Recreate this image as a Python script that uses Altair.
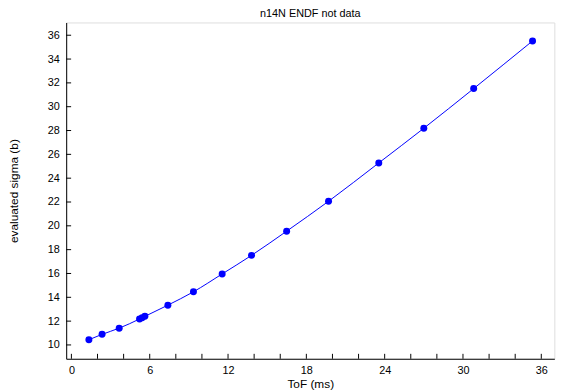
import altair as alt
import pandas as pd

tof = [1.34, 2.35, 3.66, 5.22, 5.42, 5.63, 7.39, 9.35, 11.55, 13.8, 16.49, 19.7, 23.55, 27.0, 30.82, 35.33]
sigma = [10.44, 10.89, 11.41, 12.18, 12.29, 12.40, 13.34, 14.46, 15.96, 17.52, 19.55, 22.06, 25.28, 28.19, 31.52, 35.52]

x_label_ticks = [0, 6, 12, 18, 24, 30, 36]
x_minor_ticks = list(range(0, 37, 2))
y_ticks = list(range(10, 37, 2))

W, H = 495, 341
FONT = "Liberation Sans"

df = pd.DataFrame({"tof": tof, "sigma": sigma})
xs = alt.Scale(domain=[-0.4, 37.0], nice=False, zero=False)
ys = alt.Scale(domain=[8.84, 37.07], nice=False, zero=False)

xaxis = alt.Axis(values=x_label_ticks, tickSize=0, labelPadding=6, grid=False,
                 labelOverlap=False,
                 domainColor="black", labelColor="black", labelFontSize=11,
                 labelFont=FONT, title="ToF  (ms)", titleFont=FONT, titleFontSize=12,
                 titleFontWeight="normal", titleColor="black", titlePadding=3)
yaxis = alt.Axis(values=y_ticks, tickSize=0, labelPadding=7, grid=False,
                 labelOverlap=False,
                 domainColor="black", labelColor="black", labelFontSize=11,
                 labelFont=FONT, title="evaluated sigma (b)", titleFont=FONT, titleFontSize=12,
                 titleFontWeight="normal", titleColor="black", titlePadding=27)

line = alt.Chart(df).mark_line(color="#0000FF", strokeWidth=1, interpolate="monotone").encode(
    x=alt.X("tof:Q", scale=xs, axis=xaxis, title="ToF  (ms)"),
    y=alt.Y("sigma:Q", scale=ys, axis=yaxis, title="evaluated sigma (b)"),
)
pts = alt.Chart(df).mark_circle(color="#0000FF", size=50, opacity=1).encode(
    x=alt.X("tof:Q", scale=xs, axis=xaxis, title="ToF  (ms)"),
    y=alt.Y("sigma:Q", scale=ys, axis=yaxis, title="evaluated sigma (b)"),
)

xt = alt.Chart(pd.DataFrame({"t": x_minor_ticks})).mark_rule(color="black", strokeWidth=1).encode(
    x=alt.X("t:Q", scale=xs, axis=xaxis, title="ToF  (ms)"), y=alt.value(H), y2=alt.value(H - 5))
yt = alt.Chart(pd.DataFrame({"t": y_ticks})).mark_rule(color="black", strokeWidth=1).encode(
    y=alt.Y("t:Q", scale=ys, axis=yaxis, title="evaluated sigma (b)"), x=alt.value(0), x2=alt.value(5))

chart = alt.layer(line, xt, yt, pts).properties(
    width=W, height=H,
    title=alt.TitleParams("n14N ENDF  not data", font=FONT, fontSize=11,
                          fontWeight="normal", color="black", offset=1, dy=-3),
    autosize=alt.AutoSizeParams(type="none"),
    padding={"left": 59, "top": 12, "right": 25, "bottom": 30},
).configure_view(stroke=None).configure(background="white")

chart.save("out.html", embed_options={"renderer": "svg", "actions": False})
